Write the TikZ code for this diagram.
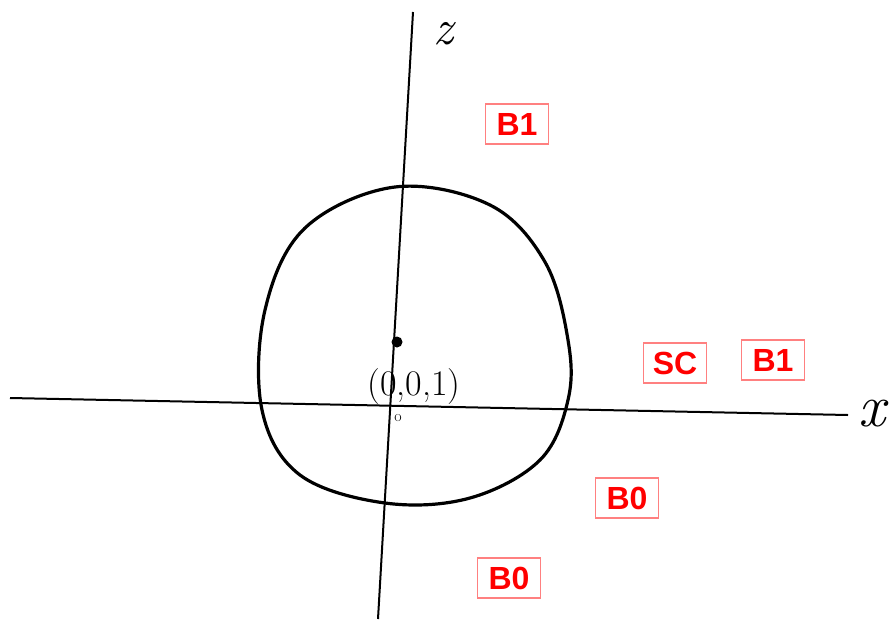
\documentclass[tikz,border=0pt]{standalone}
\usepackage{fontspec}
\newfontfamily\labelfont{Liberation Sans}
\usepackage{tikz}
\tikzset{
  regionbox/.style={draw=red!50,line width=1.4pt,text=red,font=\labelfont\bfseries\fontsize{32}{32}\selectfont,
    minimum width=63pt,minimum height=40pt,inner sep=0pt},
  sketch/.style={black,line width=3.2pt,line cap=round,line join=round}
}
\begin{document}
\begin{tikzpicture}[x=1pt,y=-1pt]
\useasboundingbox (0,0) rectangle (896,621);
\path[fill=white] (0,0) rectangle (896,621);
% objects at depth 100:
\draw[black,line width=2pt] (10,398) -- (848,415);
\draw[black,line width=2pt] (413,12) -- (378,619);
% objects at depth 75:
\draw[sketch] plot[smooth cycle,tension=0.6] coordinates {
  (395,187) (490,205) (545,262) (568,340) (568,400) (540,460)
  (470,498) (385,503) (300,475) (262,410) (265,310) (305,228)};
\fill[black] (397,342) circle (5.5pt);
\node[font=\itshape\fontsize{50}{50}\selectfont,anchor=base,inner sep=0pt] (zlabel) at (443,44) {z};
\node[font=\itshape\fontsize{60}{60}\selectfont,anchor=base,inner sep=0pt] (xlabel) at (872,426) {x};
\node[font=\fontsize{36}{36}\selectfont,anchor=base] (origin) at (414,395) {(0,0,1)};
\node[font=\fontsize{16}{16}\selectfont] (zero) at (398,418) {o};
% objects at depth 50:
\node[regionbox] (topb) at (517,124) {B1};
\node[regionbox] (sc) at (675,363) {SC};
\node[regionbox] (rightb) at (773,360) {B1};
\node[regionbox] (midb) at (627,498) {B0};
\node[regionbox] (lowb) at (509,578) {B0};
\end{tikzpicture}
\end{document}
